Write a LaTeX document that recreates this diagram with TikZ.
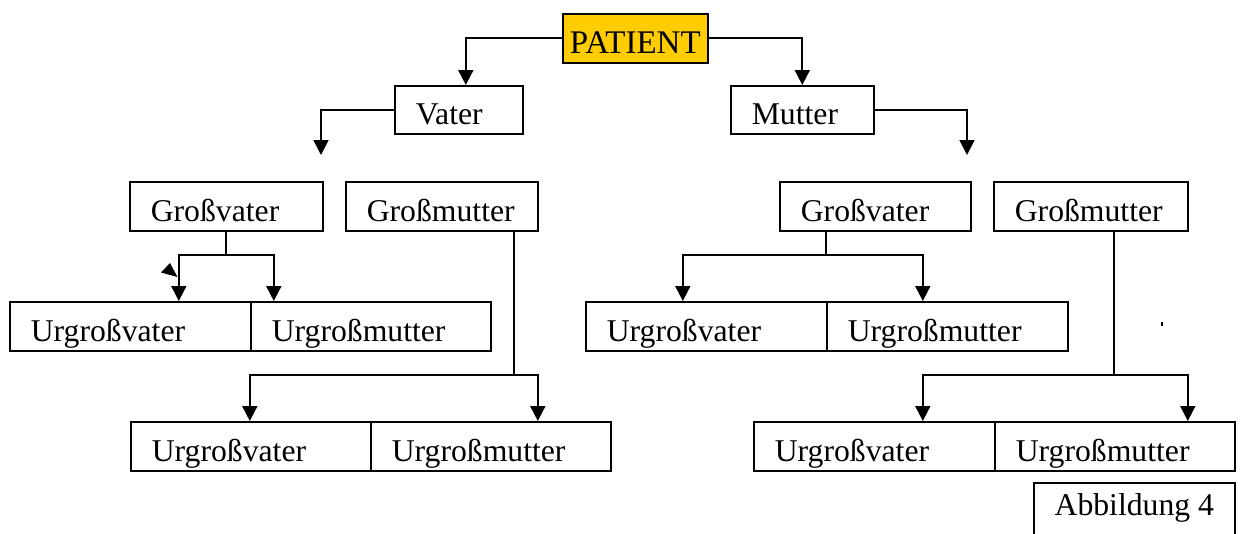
\documentclass[tikz,border=0pt]{standalone}
\usepackage{fontspec}
\setmainfont{Liberation Serif}
\usetikzlibrary{arrows.meta}
\definecolor{patgold}{HTML}{FFCC00}
\begin{document}
\begin{tikzpicture}[x=1pt,y=-1pt,
  box/.style={draw, line width=1.6pt, anchor=north west, inner ysep=0pt, inner xsep=21pt,
    minimum height=49pt, text height=30pt, text depth=0pt, align=left, text width=#1,
    font=\fontsize{31.7pt}{38pt}\selectfont},
  patbox/.style={draw, line width=1.6pt, fill=patgold, anchor=north west, inner sep=0pt,
    minimum width=145pt, minimum height=49pt, text height=31pt, text depth=0pt,
    font=\fontsize{33pt}{39pt}\selectfont},
  abbbox/.style={draw, line width=1.6pt, anchor=north west, inner sep=0pt,
    minimum width=201pt, minimum height=70pt, text height=30pt, text depth=34pt,
    font=\fontsize{31.7pt}{38pt}\selectfont},
  arr/.style={line width=1.8pt, -{Triangle[width=15pt,length=15pt]}}]
\useasboundingbox (0,0) rectangle (1240,533);

% nodes
\node[patbox] (pat) at (562,13) {PATIENT};
\node[box=86pt, minimum height=48pt] (vat) at (394,85) {Vater};
\node[box=101pt, minimum height=48pt] (mut) at (730,85) {Mutter};

\node[box=151pt] (gvl) at (129,181) {Großvater};
\node[box=150pt] (gml) at (345,181) {Großmutter};
\node[box=149pt] (gvr) at (779,181) {Großvater};
\node[box=152pt] (gmr) at (993,181) {Großmutter};

\node[box=199pt] (ul1a) at (9,301) {Urgroßvater};
\node[box=198pt] (ul1b) at (250,301) {Urgroßmutter};
\node[box=198pt] (ul2a) at (130,421) {Urgroßvater};
\node[box=198pt] (ul2b) at (370,421) {Urgroßmutter};
\node[box=199pt] (ur1a) at (585,301) {Urgroßvater};
\node[box=199pt] (ur1b) at (826,301) {Urgroßmutter};
\node[box=199pt] (ur2a) at (753,421) {Urgroßvater};
\node[box=198pt] (ur2b) at (994,421) {Urgroßmutter};

\node[abbbox] (abb) at (1033,482) {Abbildung 4};

% connectors
\draw[arr] (pat.west) -| ([xshift=7pt]vat.north);
\draw[arr] (pat.east) -| (mut.north);

\coordinate (vend) at (321,155);
\coordinate (mend) at (967,155);
\draw[arr] (vat.west) -| (vend);
\draw[arr] (mut.east) -| (mend);

\path (gvl.south) ++(0,23) coordinate (jgvl);
\draw[arr] (gvl.south) -- (jgvl) -| ([xshift=48.5pt]ul1a.north);
\draw[arr] (jgvl) -| ([xshift=-97pt]ul1b.north);

\path ([xshift=72pt]gml.south) ++(0,143) coordinate (jgml);
\draw[arr] ([xshift=72pt]gml.south) -- (jgml) -| ([xshift=-1pt]ul2a.north);
\draw[arr] (jgml) -| ([xshift=47pt]ul2b.north);

\path ([xshift=-49.5pt]gvr.south) ++(0,23) coordinate (jgvr);
\draw[arr] ([xshift=-49.5pt]gvr.south) -- (jgvr) -| ([xshift=-23.5pt]ur1a.north);
\draw[arr] (jgvr) -| ([xshift=-24.5pt]ur1b.north);

\path ([xshift=23pt]gmr.south) ++(0,143) coordinate (jgmr);
\draw[arr] ([xshift=23pt]gmr.south) -- (jgmr) -| ([xshift=48.5pt]ur2a.north);
\draw[arr] (jgmr) -| ([xshift=73pt]ur2b.north);

% stray marks
\fill (161,272.5) -- (170,263) -- (177.5,277) -- cycle;
\fill (1161,322) rectangle (1163,326);
\end{tikzpicture}
\end{document}
